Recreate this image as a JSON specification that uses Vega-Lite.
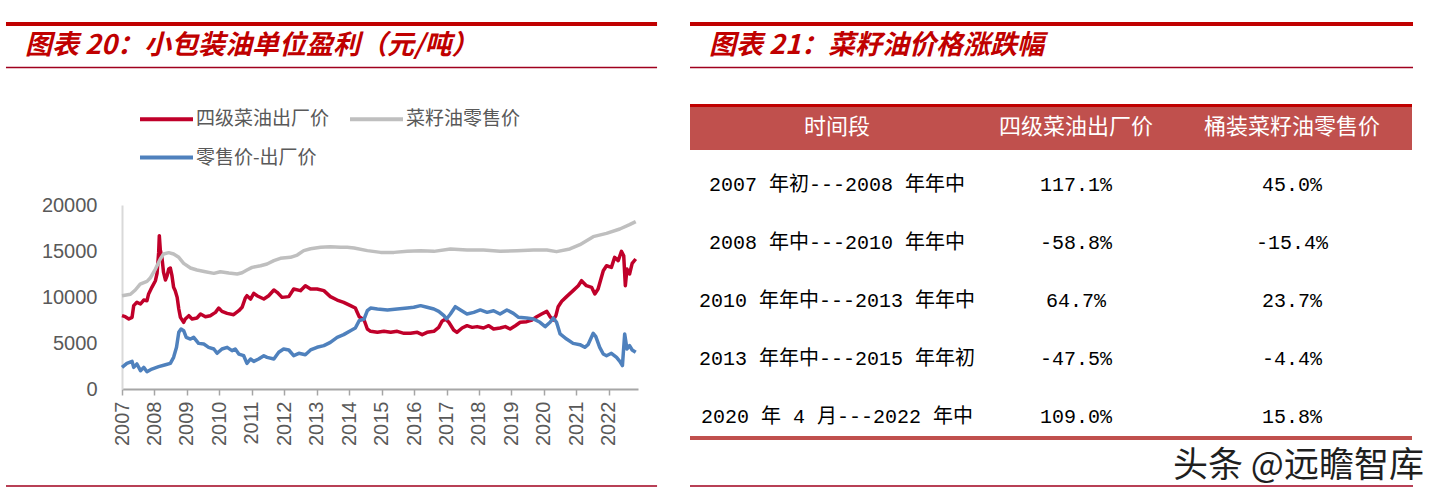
{
  "$schema": "https://vega.github.io/schema/vega-lite/v6.json",
  "padding": {"left": 3, "top": 21, "right": 8, "bottom": 8},
  "background": "white",
  "spacing": 28,
  "config": {"view": {"stroke": null}, "font": "Noto Sans CJK SC", "axis": {"labelOverlap": false}},
  "datasets": {
    "prices": [
      {"d":2007.00,"s":"四级菜油出厂价","v":7970},{"d":2007.10,"s":"四级菜油出厂价","v":7860},{"d":2007.21,"s":"四级菜油出厂价","v":7610},{"d":2007.31,"s":"四级菜油出厂价","v":7790},{"d":2007.36,"s":"四级菜油出厂价","v":9060},{"d":2007.46,"s":"四级菜油出厂价","v":9420},{"d":2007.57,"s":"四级菜油出厂价","v":9240},{"d":2007.67,"s":"四级菜油出厂价","v":9670},{"d":2007.77,"s":"四级菜油出厂价","v":9600},{"d":2007.82,"s":"四级菜油出厂价","v":10330},{"d":2007.92,"s":"四级菜油出厂价","v":11050},{"d":2008.03,"s":"四级菜油出厂价","v":11770},{"d":2008.08,"s":"四级菜油出厂价","v":12570},{"d":2008.13,"s":"四级菜油出厂价","v":14850},{"d":2008.15,"s":"四级菜油出厂价","v":16670},{"d":2008.18,"s":"四级菜油出厂价","v":15110},{"d":2008.23,"s":"四级菜油出厂价","v":14310},{"d":2008.28,"s":"四级菜油出厂价","v":12680},{"d":2008.34,"s":"四级菜油出厂价","v":11850},{"d":2008.39,"s":"四级菜油出厂价","v":12320},{"d":2008.44,"s":"四级菜油出厂价","v":13040},{"d":2008.49,"s":"四级菜油出厂价","v":13150},{"d":2008.54,"s":"四级菜油出厂价","v":12320},{"d":2008.59,"s":"四级菜油出厂价","v":11050},{"d":2008.64,"s":"四级菜油出厂价","v":10690},{"d":2008.70,"s":"四级菜油出厂价","v":9960},{"d":2008.75,"s":"四级菜油出厂价","v":8700},{"d":2008.80,"s":"四级菜油出厂价","v":7790},{"d":2008.90,"s":"四级菜油出厂价","v":7250},{"d":2008.95,"s":"四级菜油出厂价","v":7610},{"d":2009.06,"s":"四级菜油出厂价","v":7970},{"d":2009.16,"s":"四级菜油出厂价","v":7610},{"d":2009.31,"s":"四级菜油出厂价","v":7720},{"d":2009.42,"s":"四级菜油出厂价","v":8150},{"d":2009.57,"s":"四级菜油出厂价","v":7860},{"d":2009.72,"s":"四级菜油出厂价","v":7970},{"d":2009.88,"s":"四级菜油出厂价","v":8330},{"d":2009.98,"s":"四级菜油出厂价","v":8800},{"d":2010.08,"s":"四级菜油出厂价","v":8440},{"d":2010.24,"s":"四级菜油出厂价","v":8220},{"d":2010.44,"s":"四级菜油出厂价","v":8080},{"d":2010.60,"s":"四级菜油出厂价","v":8510},{"d":2010.70,"s":"四级菜油出厂价","v":8880},{"d":2010.80,"s":"四级菜油出厂价","v":9890},{"d":2010.85,"s":"四级菜油出厂价","v":10140},{"d":2010.96,"s":"四级菜油出厂价","v":9780},{"d":2011.06,"s":"四级菜油出厂价","v":10400},{"d":2011.16,"s":"四级菜油出厂价","v":10140},{"d":2011.37,"s":"四级菜油出厂价","v":9780},{"d":2011.52,"s":"四级菜油出厂价","v":10140},{"d":2011.68,"s":"四级菜油出厂价","v":10760},{"d":2011.78,"s":"四级菜油出厂价","v":10510},{"d":2011.93,"s":"四级菜油出厂价","v":9960},{"d":2012.14,"s":"四级菜油出厂价","v":10040},{"d":2012.29,"s":"四级菜油出厂价","v":10870},{"d":2012.50,"s":"四级菜油出厂价","v":10690},{"d":2012.65,"s":"四级菜油出厂价","v":11230},{"d":2012.81,"s":"四级菜油出厂价","v":10870},{"d":2013.01,"s":"四级菜油出厂价","v":10870},{"d":2013.22,"s":"四级菜油出厂价","v":10690},{"d":2013.42,"s":"四级菜油出厂价","v":10040},{"d":2013.63,"s":"四级菜油出厂价","v":9670},{"d":2013.83,"s":"四级菜油出厂价","v":9420},{"d":2014.04,"s":"四级菜油出厂价","v":9060},{"d":2014.19,"s":"四级菜油出厂价","v":8800},{"d":2014.24,"s":"四级菜油出厂价","v":8400},{"d":2014.31,"s":"四级菜油出厂价","v":7860},{"d":2014.46,"s":"四级菜油出厂价","v":7500},{"d":2014.56,"s":"四级菜油出厂价","v":6520},{"d":2014.66,"s":"四级菜油出厂价","v":6270},{"d":2014.87,"s":"四级菜油出厂价","v":6160},{"d":2015.07,"s":"四级菜油出厂价","v":6270},{"d":2015.28,"s":"四级菜油出厂价","v":6160},{"d":2015.48,"s":"四级菜油出厂价","v":6270},{"d":2015.69,"s":"四级菜油出厂价","v":6050},{"d":2015.89,"s":"四级菜油出厂价","v":6050},{"d":2016.10,"s":"四级菜油出厂价","v":6160},{"d":2016.25,"s":"四级菜油出厂价","v":5910},{"d":2016.40,"s":"四级菜油出厂价","v":6160},{"d":2016.61,"s":"四级菜油出厂价","v":6270},{"d":2016.76,"s":"四级菜油出厂价","v":6700},{"d":2016.86,"s":"四级菜油出厂价","v":7360},{"d":2016.97,"s":"四级菜油出厂价","v":7610},{"d":2017.07,"s":"四级菜油出厂价","v":7250},{"d":2017.22,"s":"四级菜油出厂价","v":6410},{"d":2017.32,"s":"四级菜油出厂价","v":6160},{"d":2017.48,"s":"四级菜油出厂价","v":6630},{"d":2017.63,"s":"四级菜油出厂价","v":6880},{"d":2017.79,"s":"四级菜油出厂价","v":6700},{"d":2017.94,"s":"四级菜油出厂价","v":6780},{"d":2018.14,"s":"四级菜油出厂价","v":6630},{"d":2018.30,"s":"四级菜油出厂价","v":6880},{"d":2018.45,"s":"四级菜油出厂价","v":6520},{"d":2018.65,"s":"四级菜油出厂价","v":6630},{"d":2018.81,"s":"四级菜油出厂价","v":6780},{"d":2018.96,"s":"四级菜油出厂价","v":6520},{"d":2019.12,"s":"四级菜油出厂价","v":6880},{"d":2019.27,"s":"四级菜油出厂价","v":7250},{"d":2019.47,"s":"四级菜油出厂价","v":7320},{"d":2019.63,"s":"四级菜油出厂价","v":7500},{"d":2019.78,"s":"四级菜油出厂价","v":7860},{"d":2019.93,"s":"四级菜油出厂价","v":8150},{"d":2020.09,"s":"四级菜油出厂价","v":8440},{"d":2020.19,"s":"四级菜油出厂价","v":7860},{"d":2020.29,"s":"四级菜油出厂价","v":7500},{"d":2020.37,"s":"四级菜油出厂价","v":7970},{"d":2020.44,"s":"四级菜油出厂价","v":8950},{"d":2020.55,"s":"四级菜油出厂价","v":9530},{"d":2020.70,"s":"四级菜油出厂价","v":10040},{"d":2020.90,"s":"四级菜油出厂价","v":10690},{"d":2021.06,"s":"四级菜油出厂价","v":11230},{"d":2021.16,"s":"四级菜油出厂价","v":11770},{"d":2021.31,"s":"四级菜油出厂价","v":11230},{"d":2021.47,"s":"四级菜油出厂价","v":11050},{"d":2021.57,"s":"四级菜油出厂价","v":10330},{"d":2021.67,"s":"四级菜油出厂价","v":10870},{"d":2021.83,"s":"四级菜油出厂价","v":12860},{"d":2021.93,"s":"四级菜油出厂价","v":13400},{"d":2022.08,"s":"四级菜油出厂价","v":13220},{"d":2022.18,"s":"四级菜油出厂价","v":14310},{"d":2022.29,"s":"四级菜油出厂价","v":13950},{"d":2022.39,"s":"四级菜油出厂价","v":14960},{"d":2022.46,"s":"四级菜油出厂价","v":14490},{"d":2022.51,"s":"四级菜油出厂价","v":11230},{"d":2022.56,"s":"四级菜油出厂价","v":13040},{"d":2022.64,"s":"四级菜油出厂价","v":12500},{"d":2022.72,"s":"四级菜油出厂价","v":13660},{"d":2022.83,"s":"四级菜油出厂价","v":14130},
      {"d":2007.00,"s":"菜籽油零售价","v":10145},{"d":2007.26,"s":"菜籽油零售价","v":10300},{"d":2007.41,"s":"菜籽油零售价","v":10760},{"d":2007.56,"s":"菜籽油零售价","v":11400},{"d":2007.77,"s":"菜籽油零售价","v":11700},{"d":2007.87,"s":"菜籽油零售价","v":12060},{"d":2008.03,"s":"菜籽油零售价","v":13040},{"d":2008.18,"s":"菜籽油零售价","v":14130},{"d":2008.28,"s":"菜籽油零售价","v":14670},{"d":2008.44,"s":"菜籽油零售价","v":14820},{"d":2008.59,"s":"菜籽油零售价","v":14670},{"d":2008.75,"s":"菜籽油零售价","v":14310},{"d":2008.90,"s":"菜籽油零售价","v":13660},{"d":2009.11,"s":"菜籽油零售价","v":13150},{"d":2009.31,"s":"菜籽油零售价","v":12930},{"d":2009.57,"s":"菜籽油零售价","v":12750},{"d":2009.83,"s":"菜籽油零售价","v":12570},{"d":2010.03,"s":"菜籽油零售价","v":12750},{"d":2010.29,"s":"菜籽油零售价","v":12610},{"d":2010.55,"s":"菜籽油零售价","v":12500},{"d":2010.70,"s":"菜籽油零售价","v":12640},{"d":2010.85,"s":"菜籽油零售价","v":12930},{"d":2011.01,"s":"菜籽油零售价","v":13220},{"d":2011.27,"s":"菜籽油零售价","v":13400},{"d":2011.47,"s":"菜籽油零售价","v":13590},{"d":2011.68,"s":"菜籽油零售价","v":13950},{"d":2011.88,"s":"菜籽油零售价","v":14200},{"d":2012.19,"s":"菜籽油零售价","v":14310},{"d":2012.40,"s":"菜籽油零售价","v":14560},{"d":2012.60,"s":"菜籽油零售价","v":15040},{"d":2012.81,"s":"菜籽油零售价","v":15250},{"d":2013.12,"s":"菜籽油零售价","v":15400},{"d":2013.42,"s":"菜籽油零售价","v":15470},{"d":2013.73,"s":"菜籽油零售价","v":15400},{"d":2013.94,"s":"菜籽油零售价","v":15400},{"d":2014.15,"s":"菜籽油零售价","v":15330},{"d":2014.56,"s":"菜籽油零售价","v":15040},{"d":2014.97,"s":"菜籽油零售价","v":14850},{"d":2015.38,"s":"菜籽油零售价","v":14850},{"d":2015.79,"s":"菜籽油零售价","v":14960},{"d":2016.20,"s":"菜籽油零售价","v":15040},{"d":2016.61,"s":"菜籽油零售价","v":14960},{"d":2017.12,"s":"菜籽油零售价","v":15220},{"d":2017.63,"s":"菜籽油零售价","v":15110},{"d":2018.14,"s":"菜籽油零售价","v":15110},{"d":2018.65,"s":"菜籽油零售价","v":14960},{"d":2019.17,"s":"菜籽油零售价","v":15040},{"d":2019.68,"s":"菜籽油零售价","v":15110},{"d":2020.09,"s":"菜籽油零售价","v":15110},{"d":2020.39,"s":"菜籽油零售价","v":14930},{"d":2020.80,"s":"菜籽油零售价","v":15220},{"d":2021.11,"s":"菜籽油零售价","v":15690},{"d":2021.52,"s":"菜籽油零售价","v":16560},{"d":2021.93,"s":"菜籽油零售价","v":16920},{"d":2022.34,"s":"菜籽油零售价","v":17390},{"d":2022.64,"s":"菜籽油零售价","v":17860},{"d":2022.83,"s":"菜籽油零售价","v":18190},
      {"d":2007.00,"s":"零售价-出厂价","v":2350},{"d":2007.15,"s":"零售价-出厂价","v":2790},{"d":2007.31,"s":"零售价-出厂价","v":3000},{"d":2007.36,"s":"零售价-出厂价","v":2350},{"d":2007.46,"s":"零售价-出厂价","v":2720},{"d":2007.57,"s":"零售价-出厂价","v":1990},{"d":2007.67,"s":"零售价-出厂价","v":2350},{"d":2007.77,"s":"零售价-出厂价","v":1880},{"d":2007.92,"s":"零售价-出厂价","v":2170},{"d":2008.13,"s":"零售价-出厂价","v":2430},{"d":2008.34,"s":"零售价-出厂价","v":2640},{"d":2008.49,"s":"零售价-出厂价","v":2790},{"d":2008.59,"s":"零售价-出厂价","v":3440},{"d":2008.68,"s":"零售价-出厂价","v":4530},{"d":2008.75,"s":"零售价-出厂价","v":6160},{"d":2008.82,"s":"零售价-出厂价","v":6520},{"d":2008.90,"s":"零售价-出厂价","v":6340},{"d":2008.98,"s":"零售价-出厂价","v":5620},{"d":2009.11,"s":"零售价-出厂价","v":5430},{"d":2009.21,"s":"零售价-出厂价","v":5620},{"d":2009.36,"s":"零售价-出厂价","v":4960},{"d":2009.52,"s":"零售价-出厂价","v":4890},{"d":2009.67,"s":"零售价-出厂价","v":4530},{"d":2009.83,"s":"零售价-出厂价","v":4350},{"d":2009.93,"s":"零售价-出厂价","v":3880},{"d":2010.08,"s":"零售价-出厂价","v":4350},{"d":2010.24,"s":"零售价-出厂价","v":4530},{"d":2010.39,"s":"零售价-出厂价","v":4170},{"d":2010.49,"s":"零售价-出厂价","v":4350},{"d":2010.60,"s":"零售价-出厂价","v":3800},{"d":2010.75,"s":"零售价-出厂价","v":3620},{"d":2010.85,"s":"零售价-出厂价","v":2790},{"d":2010.96,"s":"零售价-出厂价","v":3260},{"d":2011.06,"s":"零售价-出厂价","v":3000},{"d":2011.21,"s":"零售价-出厂价","v":3260},{"d":2011.37,"s":"零售价-出厂价","v":3620},{"d":2011.47,"s":"零售价-出厂价","v":3440},{"d":2011.68,"s":"零售价-出厂价","v":3260},{"d":2011.83,"s":"零售价-出厂价","v":3990},{"d":2011.98,"s":"零售价-出厂价","v":4350},{"d":2012.14,"s":"零售价-出厂价","v":4240},{"d":2012.29,"s":"零售价-出厂价","v":3620},{"d":2012.45,"s":"零售价-出厂价","v":3880},{"d":2012.65,"s":"零售价-出厂价","v":3730},{"d":2012.81,"s":"零售价-出厂价","v":4240},{"d":2013.01,"s":"零售价-出厂价","v":4530},{"d":2013.22,"s":"零售价-出厂价","v":4710},{"d":2013.42,"s":"零售价-出厂价","v":5070},{"d":2013.63,"s":"零售价-出厂价","v":5620},{"d":2013.83,"s":"零售价-出厂价","v":5910},{"d":2014.04,"s":"零售价-出厂价","v":6340},{"d":2014.19,"s":"零售价-出厂价","v":6630},{"d":2014.31,"s":"零售价-出厂价","v":7430},{"d":2014.46,"s":"零售价-出厂价","v":7610},{"d":2014.56,"s":"零售价-出厂价","v":8510},{"d":2014.66,"s":"零售价-出厂价","v":8800},{"d":2014.87,"s":"零售价-出厂价","v":8700},{"d":2015.18,"s":"零售价-出厂价","v":8590},{"d":2015.48,"s":"零售价-出厂价","v":8700},{"d":2015.79,"s":"零售价-出厂价","v":8800},{"d":2015.99,"s":"零售价-出厂价","v":8880},{"d":2016.20,"s":"零售价-出厂价","v":9060},{"d":2016.40,"s":"零售价-出厂价","v":8880},{"d":2016.61,"s":"零售价-出厂价","v":8700},{"d":2016.76,"s":"零售价-出厂价","v":8440},{"d":2016.92,"s":"零售价-出厂价","v":7970},{"d":2017.00,"s":"零售价-出厂价","v":7610},{"d":2017.12,"s":"零售价-出厂价","v":8150},{"d":2017.27,"s":"零售价-出厂价","v":8950},{"d":2017.43,"s":"零售价-出厂价","v":8590},{"d":2017.63,"s":"零售价-出厂价","v":8150},{"d":2017.84,"s":"零售价-出厂价","v":8330},{"d":2018.04,"s":"零售价-出厂价","v":8590},{"d":2018.25,"s":"零售价-出厂价","v":8330},{"d":2018.45,"s":"零售价-出厂价","v":8510},{"d":2018.65,"s":"零售价-出厂价","v":8150},{"d":2018.86,"s":"零售价-出厂价","v":8590},{"d":2019.06,"s":"零售价-出厂价","v":8220},{"d":2019.22,"s":"零售价-出厂价","v":7790},{"d":2019.47,"s":"零售价-出厂价","v":7720},{"d":2019.68,"s":"零售价-出厂价","v":7610},{"d":2019.88,"s":"零售价-出厂价","v":7250},{"d":2020.04,"s":"零售价-出厂价","v":6780},{"d":2020.19,"s":"零售价-出厂价","v":7250},{"d":2020.29,"s":"零售价-出厂价","v":7720},{"d":2020.39,"s":"零售价-出厂价","v":7250},{"d":2020.50,"s":"零售价-出厂价","v":5980},{"d":2020.70,"s":"零售价-出厂价","v":5430},{"d":2020.90,"s":"零售价-出厂价","v":4960},{"d":2021.11,"s":"零售价-出厂价","v":4820},{"d":2021.26,"s":"零售价-出厂价","v":4530},{"d":2021.36,"s":"零售价-出厂价","v":4820},{"d":2021.52,"s":"零售价-出厂价","v":6050},{"d":2021.60,"s":"零售价-出厂价","v":5690},{"d":2021.72,"s":"零售价-出厂价","v":4530},{"d":2021.83,"s":"零售价-出厂价","v":3800},{"d":2021.93,"s":"零售价-出厂价","v":3620},{"d":2022.08,"s":"零售价-出厂价","v":3880},{"d":2022.24,"s":"零售价-出厂价","v":3440},{"d":2022.34,"s":"零售价-出厂价","v":3000},{"d":2022.42,"s":"零售价-出厂价","v":2540},{"d":2022.49,"s":"零售价-出厂价","v":5980},{"d":2022.56,"s":"零售价-出厂价","v":4350},{"d":2022.64,"s":"零售价-出厂价","v":4710},{"d":2022.72,"s":"零售价-出厂价","v":4240},{"d":2022.83,"s":"零售价-出厂价","v":3990}
    ],
    "table": [
      {"row":1,"period":"2007 年初---2008 年年中","factory":"117.1%","retail":"45.0%"},
      {"row":2,"period":"2008 年中---2010 年年中","factory":"-58.8%","retail":"-15.4%"},
      {"row":3,"period":"2010 年年中---2013 年年中","factory":"64.7%","retail":"23.7%"},
      {"row":4,"period":"2013 年年中---2015 年年初","factory":"-47.5%","retail":"-4.4%"},
      {"row":5,"period":"2020 年 4 月---2022 年中","factory":"109.0%","retail":"15.8%"}
    ],
    "one": [{}]
  },
  "hconcat": [
    {
      "width": 516,
      "height": 184,
      "layer": [
        {
          "data": {"name": "prices"},
          "mark": {"type": "line", "strokeWidth": 3.5, "strokeJoin": "round"},
          "encoding": {
            "x": {"field": "d", "type": "quantitative",
              "scale": {"domain": [2007, 2022.9], "nice": false, "zero": false},
              "axis": {"values": [2007,2008,2009,2010,2011,2012,2013,2014,2015,2016,2017,2018,2019,2020,2021,2022], "tickCount": 30, "format": "d", "title": null, "labelAngle": -90, "labelFontSize": 20, "labelFont": "Liberation Sans", "labelColor": "#595959", "grid": false, "domainColor": "#A6A6A6", "domainWidth": 2, "tickColor": "#A6A6A6", "tickSize": 6, "tickWidth": 1.5, "labelPadding": 6, "labelFlush": false, "labelOverlap": false, "labelBound": false}},
            "y": {"field": "v", "type": "quantitative",
              "scale": {"domain": [0, 20000], "nice": false},
              "axis": {"values": [0,5000,10000,15000,20000], "tickCount": 10, "format": "d", "title": null, "grid": false, "ticks": false, "labelPadding": 25, "labelFontSize": 20, "labelFont": "Liberation Sans", "labelColor": "#595959", "domainColor": "#D9D9D9", "domainWidth": 2, "labelFlush": false, "labelOverlap": false}},
            "color": {"field": "s", "type": "nominal",
              "scale": {"domain": ["四级菜油出厂价", "菜籽油零售价", "零售价-出厂价"], "range": ["#C0002A", "#BFBFBF", "#4F81BD"]},
              "legend": {"orient": "none", "direction": "horizontal", "legendX": 29, "legendY": -101.5, "columns": 2, "title": null, "symbolType": "M-2,0H2", "symbolSize": 702, "symbolStrokeWidth": 4, "labelFontSize": 19, "labelFont": "Noto Sans CJK SC", "labelColor": "#595959", "labelOffset": 14, "rowPadding": 12.5, "columnPadding": 12, "padding": 0, "labelLimit": 0}}
          }
        },
        {
          "data": {"name": "one"},
          "mark": {"type": "rule", "color": "#C00000", "strokeWidth": 4},
          "encoding": {
            "x": {"datum": 2003.425, "type": "quantitative"},
            "x2": {"datum": 2023.487},
            "y": {"datum": 39674, "type": "quantitative"}
          }
        },
        {
          "data": {"name": "one"},
          "mark": {"type": "rule", "color": "#A0001E", "strokeWidth": 1.5},
          "encoding": {
            "x": {"datum": 2003.425, "type": "quantitative"},
            "x2": {"datum": 2023.487},
            "y": {"datum": 34946, "type": "quantitative"}
          }
        },
        {
          "data": {"name": "one"},
          "mark": {"type": "rule", "color": "#A0001E", "strokeWidth": 1.5},
          "encoding": {
            "x": {"datum": 2003.425, "type": "quantitative"},
            "x2": {"datum": 2023.487},
            "y": {"datum": -10543, "type": "quantitative"}
          }
        },
        {
          "data": {"name": "one"},
          "mark": {"type": "text", "align": "left", "baseline": "middle", "fontSize": 27, "fontWeight": "bold", "fontStyle": "italic", "color": "#C00000", "font": "Noto Sans CJK SC"},
          "encoding": {
            "x": {"datum": 2004.01, "type": "quantitative"},
            "y": {"datum": 37283, "type": "quantitative"},
            "text": {"value": "图表 20：小包装油单位盈利（元/吨）"}
          }
        }
      ]
    },
    {
      "width": 722,
      "height": 184,
      "layer": [
        {
          "data": {"name": "one"},
          "mark": {"type": "rect", "color": "#C0504D"},
          "encoding": {
            "x": {"datum": 0, "type": "quantitative", "scale": {"domain": [0, 1], "nice": false, "zero": false}, "axis": null},
            "x2": {"datum": 1},
            "y": {"datum": -0.397, "type": "quantitative", "scale": {"domain": [1.345, 4.517], "reverse": true, "nice": false, "zero": false}, "axis": null},
            "y2": {"datum": 0.397}
          }
        },
        {
          "data": {"name": "one"},
          "mark": {"type": "rule", "color": "#C00000", "strokeWidth": 3},
          "encoding": {
            "x": {"datum": 0, "type": "quantitative"},
            "x2": {"datum": 1},
            "y": {"datum": -0.37, "type": "quantitative"}
          }
        },
        {
          "data": {"name": "one"},
          "mark": {"type": "rule", "color": "#C00000", "strokeWidth": 4},
          "encoding": {
            "x": {"datum": 0, "type": "quantitative"},
            "x2": {"datum": 1.0014},
            "y": {"datum": -1.776, "type": "quantitative"}
          }
        },
        {
          "data": {"name": "one"},
          "mark": {"type": "rule", "color": "#A0001E", "strokeWidth": 1.5},
          "encoding": {
            "x": {"datum": 0, "type": "quantitative"},
            "x2": {"datum": 1.0014},
            "y": {"datum": -1.026, "type": "quantitative"}
          }
        },
        {
          "data": {"name": "one"},
          "mark": {"type": "rule", "color": "#C0504D", "strokeWidth": 4},
          "encoding": {
            "x": {"datum": 0, "type": "quantitative"},
            "x2": {"datum": 1},
            "y": {"datum": 5.362, "type": "quantitative"}
          }
        },
        {
          "data": {"name": "one"},
          "mark": {"type": "rule", "color": "#A0001E", "strokeWidth": 1.5},
          "encoding": {
            "x": {"datum": 0, "type": "quantitative"},
            "x2": {"datum": 1.0014},
            "y": {"datum": 6.19, "type": "quantitative"}
          }
        },
        {
          "data": {"name": "one"},
          "mark": {"type": "text", "align": "left", "baseline": "middle", "fontSize": 27, "fontWeight": "bold", "fontStyle": "italic", "color": "#C00000", "font": "Noto Sans CJK SC"},
          "encoding": {
            "x": {"datum": 0.0263, "type": "quantitative"},
            "y": {"datum": -1.396, "type": "quantitative"},
            "text": {"value": "图表 21：菜籽油价格涨跌幅"}
          }
        },
        {
          "data": {"name": "one"},
          "mark": {"type": "text", "align": "center", "baseline": "middle", "fontSize": 22, "color": "white", "font": "Noto Sans CJK SC"},
          "encoding": {
            "x": {"datum": 0.2036, "type": "quantitative"},
            "y": {"datum": 0, "type": "quantitative"},
            "text": {"value": "时间段"}
          }
        },
        {
          "data": {"name": "one"},
          "mark": {"type": "text", "align": "center", "baseline": "middle", "fontSize": 22, "color": "white", "font": "Noto Sans CJK SC"},
          "encoding": {
            "x": {"datum": 0.5346, "type": "quantitative"},
            "y": {"datum": 0, "type": "quantitative"},
            "text": {"value": "四级菜油出厂价"}
          }
        },
        {
          "data": {"name": "one"},
          "mark": {"type": "text", "align": "center", "baseline": "middle", "fontSize": 22, "color": "white", "font": "Noto Sans CJK SC"},
          "encoding": {
            "x": {"datum": 0.8338, "type": "quantitative"},
            "y": {"datum": 0, "type": "quantitative"},
            "text": {"value": "桶装菜籽油零售价"}
          }
        },
        {
          "data": {"name": "table"},
          "mark": {"type": "text", "align": "center", "baseline": "middle", "fontSize": 20, "color": "black", "font": "Liberation Mono, Noto Sans CJK SC"},
          "encoding": {
            "x": {"datum": 0.2036, "type": "quantitative"},
            "y": {"field": "row", "type": "quantitative"},
            "text": {"field": "period"}
          }
        },
        {
          "data": {"name": "table"},
          "mark": {"type": "text", "align": "center", "baseline": "middle", "fontSize": 20, "color": "black", "font": "Liberation Mono, Noto Sans CJK SC"},
          "encoding": {
            "x": {"datum": 0.5346, "type": "quantitative"},
            "y": {"field": "row", "type": "quantitative"},
            "text": {"field": "factory"}
          }
        },
        {
          "data": {"name": "table"},
          "mark": {"type": "text", "align": "center", "baseline": "middle", "fontSize": 20, "color": "black", "font": "Liberation Mono, Noto Sans CJK SC"},
          "encoding": {
            "x": {"datum": 0.8338, "type": "quantitative"},
            "y": {"field": "row", "type": "quantitative"},
            "text": {"field": "retail"}
          }
        },
        {
          "data": {"name": "one"},
          "mark": {"type": "text", "align": "right", "baseline": "middle", "fontSize": 35, "color": "#1F1F1F", "font": "Noto Sans CJK SC"},
          "encoding": {
            "x": {"datum": 1.0166, "type": "quantitative"},
            "y": {"datum": 5.845, "type": "quantitative"},
            "text": {"value": "头条 @远瞻智库"}
          }
        }
      ]
    }
  ]
}
